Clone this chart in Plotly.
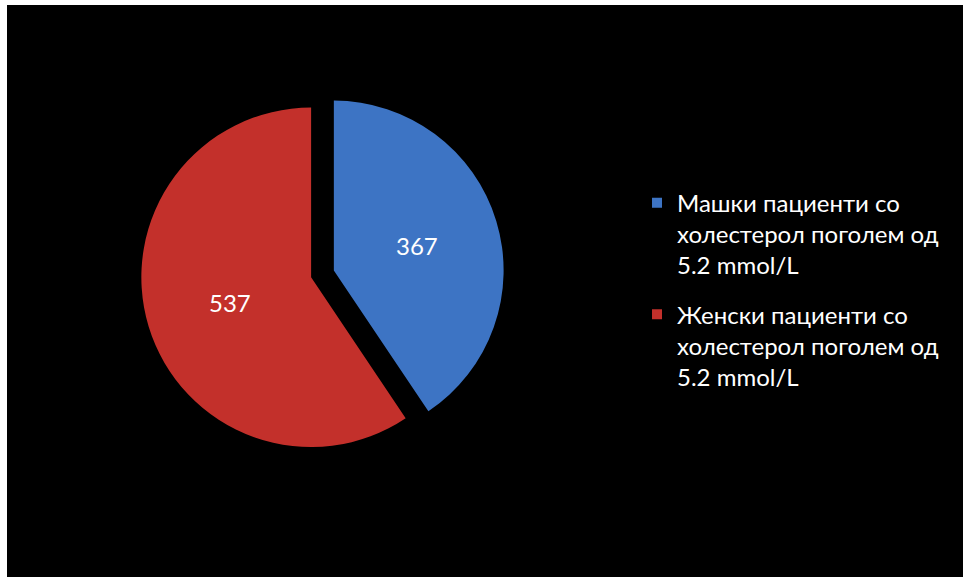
import plotly.graph_objects as go

labels = ["Машки пациенти со<br>холестерол поголем од<br>5.2 mmol/L",
          "Женски пациенти со<br>холестерол поголем од<br>5.2 mmol/L"]
values = [367, 537]
colors = ["#3d74c4", "#c3302b"]

fig = go.Figure(go.Pie(
    labels=labels, values=values, sort=False, direction="clockwise", rotation=0,
    pull=[0.07, 0.07],
    marker=dict(colors=colors, line=dict(width=0)),
    textinfo="value", textposition="inside",
    insidetextfont=dict(color="white", size=24, family="Lato"),
    domain=dict(x=[0.14, 0.52], y=[0.2, 0.86]),
    hoverinfo="label+value",
    showlegend=False,
))

# legend entries matching the slices
for i, (lab, col) in enumerate(zip(labels, colors)):
    fig.add_trace(go.Scatter(
        x=[None], y=[None], mode="markers", name=lab, legendgroup=f"g{i}",
        marker=dict(symbol="square", size=10, color=col),
    ))

fig.update_layout(
    width=963, height=579,
    paper_bgcolor="white",
    plot_bgcolor="rgba(0,0,0,0)",
    margin=dict(l=7, r=0, t=5, b=2),
    xaxis=dict(visible=False), yaxis=dict(visible=False),
    shapes=[dict(type="rect", xref="paper", yref="paper", x0=0, x1=1, y0=0, y1=1,
                 fillcolor="black", line=dict(width=0), layer="below")],
    legend=dict(x=0.659, y=0.693, xanchor="left", yanchor="top",
                font=dict(color="white", size=24, family="Lato"),
                bgcolor="rgba(0,0,0,0)", tracegroupgap=15, valign="top",
                itemwidth=30),
    showlegend=True,
)

fig.write_html("out.html")
